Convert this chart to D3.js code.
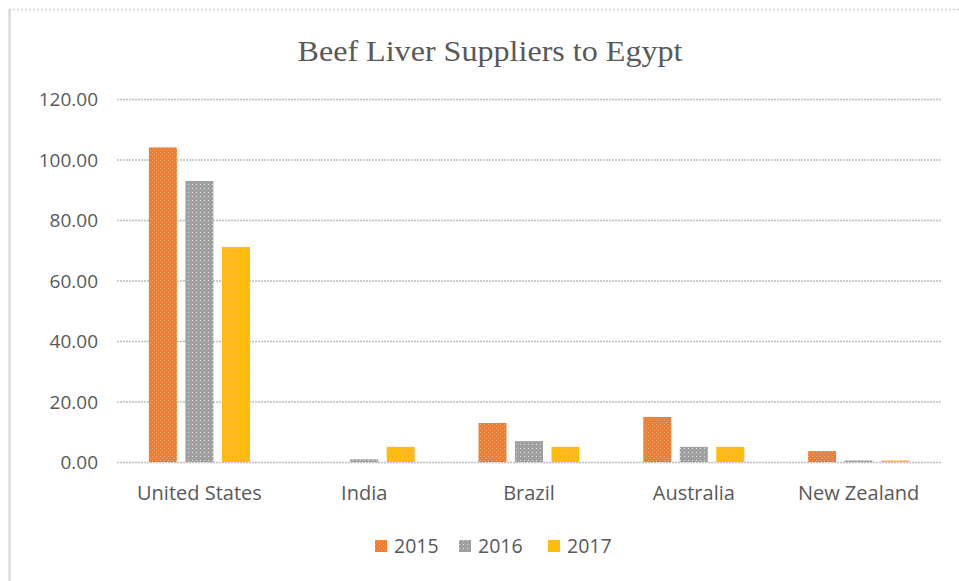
<!DOCTYPE html>
<html>
<head>
	<meta charset="utf-8">
	<script src="https://d3js.org/d3.v7.min.js"></script>
	<title>Beef Liver Suppliers to Egypt</title>
	<style>
		body { margin: 0; background: #fff; }
	</style>
</head>
<body>
	<div id="chart"></div>

	<script type="text/javascript">

		// data
		var countries = ["United States", "India", "Brazil", "Australia", "New Zealand"];
		var years = ["2015", "2016", "2017"];
		var v2015 = [104.0, 0.0, 12.9, 14.9, 3.6];
		var v2016 = [92.9, 0.9, 6.9, 5.0, 0.5];
		var v2017 = [71.1, 5.0, 5.0, 5.0, 0.5];
		var yTicks = [0, 20, 40, 60, 80, 100, 120];

		var seriesValues = [v2015, v2016, v2017];
		var colors = ["#ED7D31", "#A0A0A0", "#FFC000"];
		var dotColors = ["#F4A672", "#E0E0E0", "#F5A623"];

		var svgwidth = 959, svgheight = 581;
		var plotLeft = 117, plotRight = 941, plotTop = 99, plotBottom = 462;

		var svg = d3.select("#chart").append("svg")
				.attr("width", svgwidth)
				.attr("height", svgheight);

		// hatch-like fill patterns
		var defs = svg.append("defs");
		colors.forEach(function(c, i){
			var p = defs.append("pattern").attr("id", "pat" + i)
				.attr("width", 4).attr("height", 4)
				.attr("patternUnits", "userSpaceOnUse");
			p.append("rect").attr("width", 4).attr("height", 4).attr("fill", c);
			p.append("rect").attr("x", 0).attr("y", 0).attr("width", 1).attr("height", 1).attr("fill", dotColors[i]);
			if (i !== 1) {
				p.append("rect").attr("x", 2).attr("y", 2).attr("width", 1).attr("height", 1).attr("fill", dotColors[i]);
			}
		});

		// chart frame
		svg.append("line").attr("x1", 9.5).attr("x2", 9.5).attr("y1", 9).attr("y2", svgheight)
			.attr("stroke", "#d4d4d4").attr("stroke-width", 2);
		svg.append("line").attr("x1", 9).attr("x2", svgwidth).attr("y1", 9.5).attr("y2", 9.5)
			.attr("stroke", "#d0d0d0").attr("stroke-width", 1.5).attr("stroke-dasharray", "2,2");

		var x0 = d3.scaleBand().domain(countries).range([plotLeft, plotRight]);
		var x1 = d3.scaleBand().domain(years).range([0, x0.bandwidth()])
				.paddingInner(0.233).paddingOuter(0.874);
		var y = d3.scaleLinear().domain([0, 120]).range([plotBottom, plotTop]);

		// gridlines
		svg.append("g").selectAll("line").data(yTicks).enter().append("line")
			.attr("x1", plotLeft).attr("x2", plotRight)
			.attr("y1", function(d){ return y(d) + 0.5; })
			.attr("y2", function(d){ return y(d) + 0.5; })
			.attr("stroke", "#bdbdbd").attr("stroke-width", 1.5)
			.attr("stroke-dasharray", "2,1");

		// y axis labels
		var yAxis = d3.axisLeft(y).tickValues(yTicks).tickSize(0).tickPadding(0)
			.tickFormat(function(d){ return d.toFixed(2); });
		var ya = svg.append("g").attr("transform", "translate(98,0)").call(yAxis);
		ya.select(".domain").remove();
		ya.selectAll("text").attr("font-family", "'Open Sans', sans-serif")
			.attr("font-size", 19).attr("fill", "#595959").attr("dy", "0.35em");

		// bars
		var groups = svg.selectAll(".gbars").data(seriesValues).enter().append("g")
			.attr("class", "gbars")
			.attr("fill", function(d, i){ return "url(#pat" + i + ")"; });

		groups.each(function(vals, si){
			d3.select(this).selectAll("rect").data(vals).enter().append("rect")
				.attr("x", function(d, i){ return x0(countries[i]) + x1(years[si]); })
				.attr("y", function(d){ return y(d); })
				.attr("width", x1.bandwidth())
				.attr("height", function(d){ return y(0) - y(d); });
		});

		// category labels
		var xAxis = d3.axisBottom(x0).tickSize(0).tickPadding(0);
		var xa = svg.append("g").attr("transform", "translate(0," + (plotBottom + 24) + ")").call(xAxis);
		xa.select(".domain").remove();
		xa.selectAll("text").attr("font-family", "'Open Sans', sans-serif")
			.attr("font-size", 20).attr("fill", "#595959");

		// title
		svg.append("text").attr("x", 490).attr("y", 61)
			.attr("text-anchor", "middle")
			.attr("font-family", "'Liberation Serif', 'Times New Roman', serif")
			.attr("font-size", 30).attr("fill", "#595959")
			.attr("textLength", 385).attr("lengthAdjust", "spacingAndGlyphs")
			.text("Beef Liver Suppliers to Egypt");

		// legend
		var legendX = [375, 459, 548];
		var legend = svg.append("g").selectAll("g").data(years).enter().append("g")
			.attr("transform", function(d, i){ return "translate(" + legendX[i] + ",540)"; });
		legend.append("rect").attr("width", 12).attr("height", 12)
			.attr("fill", function(d, i){ return "url(#pat" + i + ")"; });
		legend.append("text").attr("x", 19).attr("y", 6).attr("dy", "0.35em")
			.attr("font-family", "'Open Sans', sans-serif")
			.attr("font-size", 19.5).attr("fill", "#595959")
			.text(function(d){ return d; });

	</script>
</body>
</html>
